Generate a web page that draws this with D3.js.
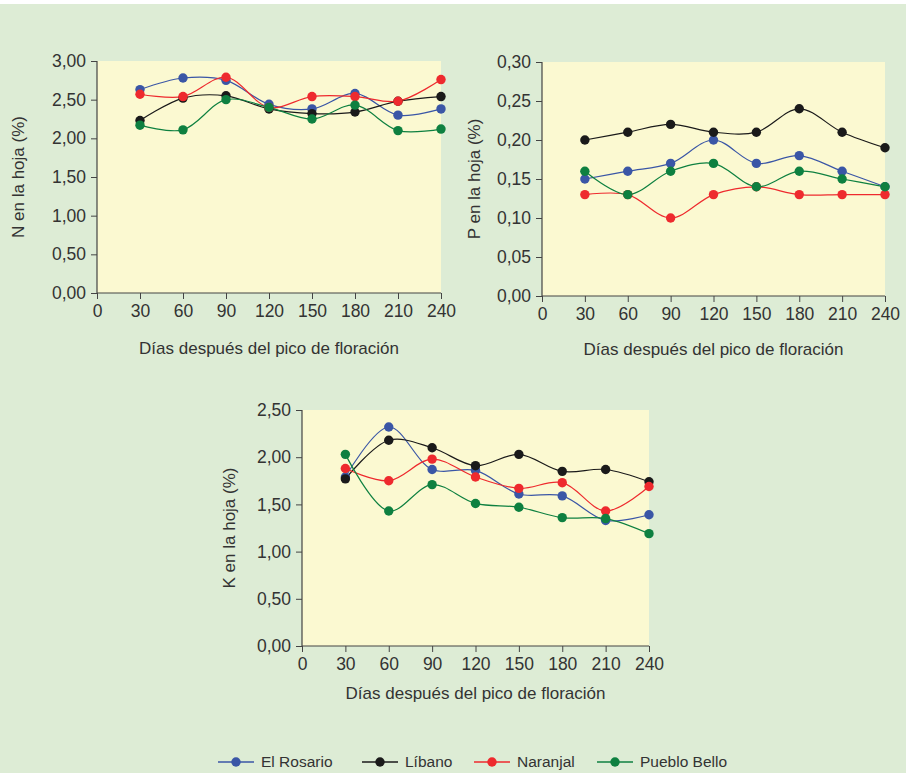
<!DOCTYPE html>
<html><head><meta charset="utf-8">
<script src="https://cdn.jsdelivr.net/npm/d3@7"></script>
<style>
html,body{margin:0;padding:0;background:#fff;}
svg{display:block;}
text{font-family:"Liberation Sans",Arial,sans-serif;fill:#333;}
</style></head>
<body>
<svg id="chart" width="906" height="773"></svg>
<script>
const days = [30, 60, 90, 120, 150, 180, 210, 240];
const xTicks = [0, 30, 60, 90, 120, 150, 180, 210, 240];
const seriesNames = ["El Rosario", "Líbano", "Naranjal", "Pueblo Bello"];
const seriesColors = ["#3a56a6", "#1a1a1a", "#ee2a2e", "#0e8040"];

const nRosario = [2.63, 2.78, 2.75, 2.44, 2.38, 2.58, 2.30, 2.38];
const nLibano  = [2.23, 2.52, 2.55, 2.38, 2.32, 2.34, 2.48, 2.54];
const nNaranjal= [2.57, 2.54, 2.79, 2.40, 2.54, 2.54, 2.48, 2.76];
const nPueblo  = [2.17, 2.11, 2.50, 2.40, 2.25, 2.43, 2.10, 2.12];

const pRosario = [0.15, 0.16, 0.17, 0.20, 0.17, 0.18, 0.16, 0.14];
const pLibano  = [0.20, 0.21, 0.22, 0.21, 0.21, 0.24, 0.21, 0.19];
const pNaranjal= [0.13, 0.13, 0.10, 0.13, 0.14, 0.13, 0.13, 0.13];
const pPueblo  = [0.16, 0.13, 0.16, 0.17, 0.14, 0.16, 0.15, 0.14];

const kRosario = [1.79, 2.32, 1.87, 1.86, 1.61, 1.59, 1.33, 1.39];
const kLibano  = [1.77, 2.18, 2.10, 1.91, 2.03, 1.85, 1.87, 1.74];
const kNaranjal= [1.88, 1.75, 1.98, 1.79, 1.67, 1.73, 1.43, 1.69];
const kPueblo  = [2.03, 1.43, 1.71, 1.51, 1.47, 1.36, 1.35, 1.19];

const nTicks = [0, 0.5, 1, 1.5, 2, 2.5, 3];
const pTicks = [0, 0.05, 0.10, 0.15, 0.20, 0.25, 0.30];
const kTicks = [0, 0.5, 1, 1.5, 2, 2.5];

const xTitle = "Días después del pico de floración";

const svg = d3.select("#chart");
svg.append("rect").attr("x",0).attr("y",4).attr("width",906).attr("height",769).attr("fill","#ddecd5");

const fmt = v => d3.format(".2f")(v).replace(".", ",");

function panel(opts){
  const {x0, x1, y0, y1, ymax, yTicks, yTitle, titleX, xTitleY, series} = opts;
  const x = d3.scaleLinear().domain([0,240]).range([x0,x1]);
  const y = d3.scaleLinear().domain([0,ymax]).range([y1,y0]);
  const g = svg.append("g");
  g.append("rect").attr("x",x0).attr("y",y0).attr("width",x1-x0).attr("height",y1-y0).attr("fill","#fbf9d1");
  const ya = g.append("g").attr("transform",`translate(${x0},0)`)
    .call(d3.axisLeft(y).tickValues(yTicks).tickFormat(fmt).tickSize(6).tickPadding(5));
  const xa = g.append("g").attr("transform",`translate(0,${y1})`)
    .call(d3.axisBottom(x).tickValues(xTicks).tickSize(6).tickPadding(6));
  [ya, xa].forEach(a => {
    a.select(".domain").attr("stroke","#444").attr("stroke-width",1.2);
    a.selectAll(".tick line").attr("stroke","#444");
    a.selectAll("text").attr("font-size",17.5).attr("fill","#3a3a3a").attr("font-family",'"Liberation Sans",Arial,sans-serif');
  });
  ya.select(".domain").attr("d",`M0,${y0}V${y1}`);
  xa.select(".domain").attr("d",`M${x0},0H${x1}`);
  g.append("text").attr("x",(x0+x1)/2).attr("y",xTitleY).attr("text-anchor","middle")
    .attr("font-size",17).attr("fill","#3a3a3a").text(xTitle);
  g.append("text").attr("transform",`translate(${titleX},${(y0+y1)/2}) rotate(-90)`)
    .attr("text-anchor","middle").attr("dy","0.35em").attr("font-size",17).attr("fill","#3a3a3a").text(yTitle);
  const line = d3.line().x((d,i)=>x(days[i])).y(d=>y(d)).curve(d3.curveCatmullRom.alpha(0.5));
  series.forEach((s,si) => {
    g.append("path").attr("d",line(s)).attr("fill","none").attr("stroke",seriesColors[si]).attr("stroke-width",1.2);
  });
  series.forEach((s,si) => {
    g.selectAll(null).data(s).enter().append("circle")
      .attr("cx",(d,i)=>x(days[i])).attr("cy",d=>y(d)).attr("r",4.7).attr("fill",seriesColors[si]);
  });
}

panel({x0:97, x1:441, y0:61, y1:293, ymax:3, yTicks:nTicks, yTitle:"N en la hoja (%)", titleX:18, xTitleY:354,
  series:[nRosario,nLibano,nNaranjal,nPueblo]});
panel({x0:542, x1:885, y0:62, y1:296, ymax:0.3, yTicks:pTicks, yTitle:"P en la hoja (%)", titleX:474, xTitleY:355,
  series:[pRosario,pLibano,pNaranjal,pPueblo]});
panel({x0:302, x1:649, y0:410, y1:646, ymax:2.5, yTicks:kTicks, yTitle:"K en la hoja (%)", titleX:229, xTitleY:699,
  series:[kRosario,kLibano,kNaranjal,kPueblo]});

const legX = [218, 362, 474, 597];
const leg = svg.append("g");
seriesNames.forEach((n,i) => {
  const lx = legX[i], ly = 762;
  leg.append("line").attr("x1",lx).attr("x2",lx+36).attr("y1",ly).attr("y2",ly).attr("stroke",seriesColors[i]).attr("stroke-width",1.5);
  leg.append("circle").attr("cx",lx+18).attr("cy",ly).attr("r",4.7).attr("fill",seriesColors[i]);
  leg.append("text").attr("x",lx+43).attr("y",ly).attr("dy","0.35em").attr("font-size",15.5).attr("fill","#3a3a3a").text(n);
});
</script>
</body></html>
